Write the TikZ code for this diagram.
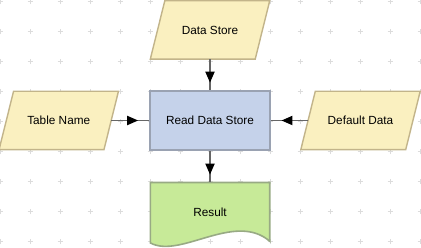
\documentclass[tikz,border=0pt]{standalone}
\usepackage{fontspec}
\setmainfont{Liberation Sans}
\usepackage{tikz}
\usepackage{xcolor}
\usetikzlibrary{arrows.meta,positioning,backgrounds,decorations.markings}

\definecolor{ioFill}{HTML}{FAF0C0}
\definecolor{ioLine}{HTML}{C2B48A}
\definecolor{procFill}{HTML}{C5D2EA}
\definecolor{procLine}{HTML}{9AA2B2}
\definecolor{docFill}{HTML}{C7EA98}
\definecolor{docLine}{HTML}{98AA84}
\definecolor{flowLine}{HTML}{666666}
\definecolor{gridMark}{HTML}{DCDCDC}

\begin{document}
\begin{tikzpicture}[
  x=1pt, y=1pt,
  font=\fontsize{11.8}{14}\selectfont,
  process/.style={draw=procLine, fill=procFill, line width=1.6pt, minimum width=120pt, minimum height=59pt, inner sep=0pt},
  dataio/.style={minimum width=104.5pt, minimum height=58pt, inner sep=0pt},
  ioshape/.style={draw=ioLine, fill=ioFill, line width=1.4pt},
  document/.style={minimum width=119pt, minimum height=60pt, inner sep=0pt},
  docshape/.style={draw=docLine, fill=docFill, line width=1.6pt},
  gridmark/.style={draw=gridMark, line width=0.9pt},
  arrow/.style={draw=flowLine, line width=1.8pt, postaction={decorate},
    decoration={markings, mark=at position 0.5 with {\pgftransformxshift{8pt}\arrow{Triangle[length=11pt,width=9pt,color=black]}}}}
]
\useasboundingbox (0,0) rectangle (421,-248);

\node[process] (read) at (210,-120.5) {Read Data Store};
\node[dataio, above=31pt of read] (store) {Data Store};
\node[dataio, left=38pt of read] (table) {Table Name};
\node[dataio, right=37.25pt of read] (default) {Default Data};
\node[document, below=31.7pt of read] (result) {Result};

\begin{scope}[on background layer]
  \foreach \gx in {0,30,...,420}
    \foreach \gy in {0,...,8}
      \draw[gridmark] (\gx,{-1.7-30*\gy}) +(-2.5,0) -- +(2.5,0) +(0,-2.5) -- +(0,2.5);
  \foreach \io in {store,table,default}
    \draw[ioshape] ([xshift=7.25pt]\io.north west) -- ([xshift=7.25pt]\io.north east)
      -- ([xshift=-7.25pt]\io.south east) -- ([xshift=-7.25pt]\io.south west) -- cycle;
  \draw[docshape] (result.north west) -- (result.north east) -- ([yshift=1.7pt]result.south east)
    .. controls +(-35,30) and +(30,-16.3) .. (result.south west) -- cycle;
\end{scope}

\draw[arrow] (store) -- (read);
\draw[arrow] (table) -- (read);
\draw[arrow] (default) -- (read);
\draw[arrow] (read) -- (result);
\end{tikzpicture}
\end{document}
